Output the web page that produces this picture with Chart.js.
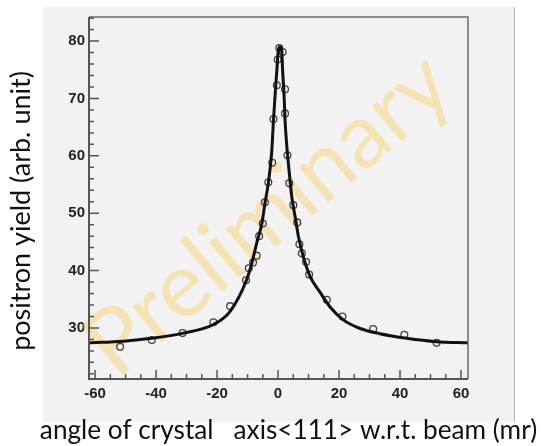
<!DOCTYPE html>
<html lang="en">
<head>
    <meta charset="UTF-8">
    <title>Positron yield vs crystal angle</title>
    <script src="https://cdn.jsdelivr.net/npm/chart.js"></script>
    <style>
        html, body { margin: 0; padding: 0; background: #fff; }
        .chart-container { width: 541px; height: 446px; }
    </style>
</head>
<body>
    <div class="chart-container">
        <canvas id="yieldChart"></canvas>
    </div>

    <script>
        // measured points (angle in mr, yield)
        const pointAngles = [-51.8, -41.4, -31.3, -21.2, -15.7, -10.5, -9.6, -8.2, -7.0, -6.2, -5.0, -4.3, -3.2, -1.9, -1.5, -0.4, -0.1, 0.4,
                             1.5, 2.3, 2.3, 3.1, 3.7, 5.0, 6.3, 7.0, 7.8, 9.2, 10.2, 16.0, 21.1, 31.2, 41.4, 52.0];
        const pointYields = [26.7, 27.9, 29.1, 31.0, 33.8, 38.3, 40.4, 41.4, 42.6, 46.0, 48.2, 51.9, 55.4, 58.8, 66.4, 72.3, 76.8, 78.8,
                             78.1, 71.6, 67.4, 60.1, 55.2, 51.4, 48.4, 44.6, 43.0, 41.5, 39.3, 34.9, 32.0, 29.8, 28.8, 27.4];

        // fit curve
        const fitAngles = [-62, -50.7, -41.4, -31, -21.2, -15.7, -10.3, -8.6, -7, -5.3, -4.3, -3.2, -2.1, -1.5, -1.0, -0.4, 0.1, 0.6,
                           1.2, 1.5, 2.0, 2.3, 2.9, 3.7, 4.5, 5.6, 6.7, 8.3, 10.5, 13.8, 17.0, 21.4, 26.9, 33.4, 42.2, 52, 62.3];
        const fitYields = [27.4, 27.7, 28.2, 29.1, 30.6, 32.9, 38.4, 41.3, 44.8, 48.2, 51.7, 55.2, 60.5, 66.2, 70.3, 74.9, 78.4, 79.0,
                           78.4, 74.9, 70.3, 66.2, 61.5, 57.0, 52.9, 49.4, 45.9, 42.4, 39.0, 36.2, 33.7, 31.4, 29.9, 29.0, 28.2, 27.6, 27.4];

        const xTicks = [-60, -40, -20, 0, 20, 40, 60];
        const yTicks = [30, 40, 50, 60, 70, 80];

        const xTitle = 'angle of crystal   axis<111> w.r.t. beam (mr)';
        const yTitle = 'positron yield (arb. unit)';
        const watermark = 'Preliminary';

        const family = 'Lato, "Open Sans", sans-serif';

        // draw text scaled so it spans a given width
        function fitText(ctx, text, x, y, width, angle) {
            ctx.save();
            ctx.font = '20px ' + family;
            const size = 20 * width / ctx.measureText(text).width;
            ctx.font = size.toFixed(1) + 'px ' + family;
            ctx.translate(x, y);
            ctx.rotate(angle);
            ctx.fillText(text, 0, 0);
            ctx.restore();
        }

        const decor = {
            id: 'decor',
            beforeDraw(chart) {
                const ctx = chart.ctx;
                ctx.save();
                ctx.fillStyle = '#ffffff';
                ctx.fillRect(0, 0, chart.width, chart.height);
                ctx.fillStyle = '#f2f2f2';
                ctx.fillRect(43, 7, 471, 415);
                ctx.strokeStyle = '#b8b8b8';
                ctx.lineWidth = 1;
                ctx.beginPath();
                ctx.moveTo(514.5, 7);
                ctx.lineTo(514.5, 422);
                ctx.stroke();
                ctx.restore();
            },
            beforeDatasetsDraw(chart) {
                const ctx = chart.ctx;
                ctx.save();
                ctx.textAlign = 'center';
                ctx.textBaseline = 'middle';
                ctx.fillStyle = 'rgba(250, 205, 90, 0.4)';
                fitText(ctx, watermark, 268, 215, 445, -40 * Math.PI / 180);
                ctx.restore();
            },
            afterDatasetsDraw(chart) {
                const ctx = chart.ctx;
                const a = chart.chartArea;
                const xs = chart.scales.x, ys = chart.scales.y;
                ctx.save();
                // frame
                ctx.strokeStyle = '#6a6a6a';
                ctx.lineWidth = 1.5;
                ctx.beginPath();
                ctx.moveTo(a.left, a.top);
                ctx.lineTo(a.right, a.top);
                ctx.lineTo(a.right, a.bottom);
                ctx.stroke();
                ctx.strokeStyle = '#555';
                ctx.lineWidth = 2;
                ctx.beginPath();
                ctx.moveTo(a.left, a.top);
                ctx.lineTo(a.left, a.bottom);
                ctx.lineTo(a.right, a.bottom);
                ctx.stroke();
                // inward ticks
                ctx.lineWidth = 1.5;
                ctx.beginPath();
                for (let v = -60; v <= 60; v += 5) {
                    const px = xs.getPixelForValue(v);
                    const len = v % 20 === 0 ? 9 : 5;
                    ctx.moveTo(px, a.bottom);
                    ctx.lineTo(px, a.bottom - len);
                }
                for (let v = 22; v <= 84; v += 2) {
                    const py = ys.getPixelForValue(v);
                    const len = v % 10 === 0 ? 10 : 5;
                    ctx.moveTo(a.left, py);
                    ctx.lineTo(a.left + len, py);
                }
                ctx.stroke();
                ctx.restore();
            },
            afterDraw(chart) {
                const ctx = chart.ctx;
                ctx.save();
                ctx.fillStyle = '#111';
                ctx.textBaseline = 'middle';
                ctx.textAlign = 'center';
                fitText(ctx, xTitle, 288.5, 431, 497, 0);
                fitText(ctx, yTitle, 21, 211, 280, -Math.PI / 2);
                ctx.restore();
            }
        };

        const ctx = document.getElementById('yieldChart').getContext('2d');
        const yieldChart = new Chart(ctx, {
            type: 'scatter',
            data: {
                datasets: [{
                    type: 'line',
                    label: 'fit',
                    data: fitAngles.map((x, i) => ({ x: x, y: fitYields[i] })),
                    borderColor: '#111',
                    borderWidth: 3,
                    pointRadius: 0,
                    cubicInterpolationMode: 'monotone',
                    fill: false,
                    order: 1
                }, {
                    label: 'data',
                    data: pointAngles.map((x, i) => ({ x: x, y: pointYields[i] })),
                    pointStyle: 'circle',
                    pointRadius: 3.4,
                    borderColor: '#444',
                    borderWidth: 1.3,
                    backgroundColor: 'rgba(0,0,0,0)',
                    order: 2
                }]
            },
            options: {
                responsive: true,
                maintainAspectRatio: false,
                animation: false,
                layout: { padding: { top: 17, right: 73, left: 0, bottom: 0 } },
                plugins: {
                    legend: { display: false },
                    tooltip: { enabled: false }
                },
                scales: {
                    x: {
                        type: 'linear',
                        min: -62,
                        max: 62.3,
                        afterFit: s => { s.height = 67; },
                        afterBuildTicks: s => { s.ticks = xTicks.map(v => ({ value: v })); },
                        grid: { display: false, drawTicks: false },
                        border: { display: false },
                        ticks: {
                            padding: 6,
                            maxRotation: 0,
                            color: '#222',
                            font: { family: '"Liberation Sans", Arial, sans-serif', size: 15, weight: 'bold' }
                        }
                    },
                    y: {
                        type: 'linear',
                        min: 21.1,
                        max: 84.2,
                        afterFit: s => { s.width = 89; },
                        afterBuildTicks: s => { s.ticks = yTicks.map(v => ({ value: v })); },
                        grid: { display: false, drawTicks: false },
                        border: { display: false },
                        ticks: {
                            padding: 4,
                            color: '#222',
                            font: { family: '"Liberation Sans", Arial, sans-serif', size: 15, weight: 'bold' }
                        }
                    }
                }
            },
            plugins: [decor]
        });
    </script>
</body>
</html>
